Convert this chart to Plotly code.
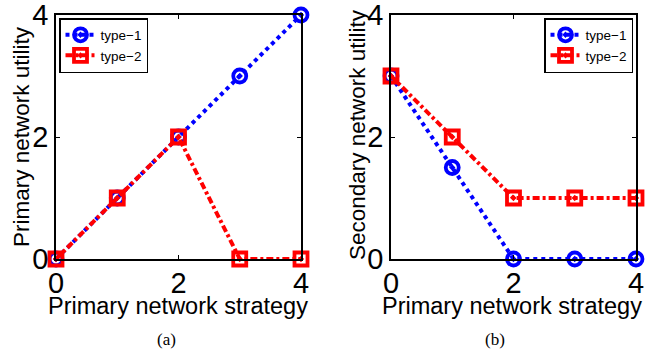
import plotly.graph_objects as go

x_strategy = [0, 1, 2, 3, 4]
a_type1 = [0, 1, 2, 3, 4]
a_type2 = [0, 1, 2, 0, 0]
b_type1 = [3, 1.5, 0, 0, 0]
b_type2 = [3, 2, 1, 1, 1]
ticks = [0, 2, 4]
x_title = "Primary network strategy"
y_title_a = "Primary network utility"
y_title_b = "Secondary network utility"

W, H = 647, 356
BLUE = "#0000ff"
RED = "#ff0000"

def px(x):
    return x / W

def py(y):
    return 1 - y / H

fig = go.Figure()

def add(x, y, name, color, symbol, dash, xa, ya, legend):
    fig.add_trace(go.Scatter(
        x=x, y=y, name=name, mode="lines+markers",
        line=dict(color=color, width=4, dash=dash),
        marker=dict(symbol=symbol, size=13, color=color,
                    line=dict(color=color, width=3.8)),
        xaxis=xa, yaxis=ya, legend=legend, showlegend=True, cliponaxis=False))

BLUE_DASH = "4px,4px"
RED_DASH = "7px,3px,3px,3px"
add(x_strategy, a_type1, "type\u22121", BLUE, "circle-open-dot", BLUE_DASH, "x", "y", "legend")
add(x_strategy, a_type2, "type\u22122", RED, "square-open-dot", RED_DASH, "x", "y", "legend")
add(x_strategy, b_type1, "type\u22121", BLUE, "circle-open-dot", BLUE_DASH, "x2", "y2", "legend2")
add(x_strategy, b_type2, "type\u22122", RED, "square-open-dot", RED_DASH, "x2", "y2", "legend2")

ydom = [py(259), py(15)]
axis_common = dict(range=[0, 4], tickvals=ticks, showline=True, mirror="ticks",
                   linecolor="black", linewidth=1.5, ticks="inside", ticklen=4,
                   tickcolor="black", showgrid=False, zeroline=False, automargin=False,
                   ticklabeloverflow="allow",
                   tickfont=dict(family="Liberation Sans, Arial", size=29, color="black"))
xaxis_extra = dict(ticklabelstandoff=-3)
xtitle_font = dict(family="Liberation Sans, Arial", size=23.5, color="black")
ytitle_font = dict(family="Liberation Sans, Arial", size=22.5, color="black")
cap_font = dict(family="Liberation Serif, Times New Roman", size=17, color="black")
leg_font = dict(family="Liberation Sans, Arial", size=13.5, color="black")

def ann(text, x, y, font, angle=0):
    return dict(text=text, x=px(x), y=py(y), xref="paper", yref="paper",
                xanchor="center", yanchor="middle", showarrow=False,
                font=font, textangle=angle)

fig.update_layout(
    width=W, height=H, margin=dict(l=0, r=0, t=0, b=0, autoexpand=False),
    paper_bgcolor="white", plot_bgcolor="white",
    xaxis=dict(domain=[px(56), px(301)], anchor="y", **axis_common, **xaxis_extra),
    yaxis=dict(domain=ydom, anchor="x", **axis_common),
    xaxis2=dict(domain=[px(391), px(636)], anchor="y2", **axis_common, **xaxis_extra),
    yaxis2=dict(domain=ydom, anchor="x2", **axis_common),
    legend=dict(x=px(59), y=py(18), xanchor="left", yanchor="top",
                bgcolor="white", bordercolor="black", borderwidth=1.5,
                font=leg_font, itemwidth=30, tracegroupgap=0),
    legend2=dict(x=px(633), y=py(18), xanchor="right", yanchor="top",
                 bgcolor="white", bordercolor="black", borderwidth=1.5,
                 font=leg_font, itemwidth=30, tracegroupgap=0),
    annotations=[
        ann(x_title, 178, 306, xtitle_font),
        ann(x_title, 512, 306, xtitle_font),
        ann(y_title_a, 21, 137, ytitle_font, -90),
        ann(y_title_b, 357, 135, ytitle_font, -90),
        ann("(a)", 166, 339, cap_font),
        ann("(b)", 495, 339, cap_font),
    ],
)

fig.write_html("out.html", config={"displayModeBar": False},
               post_script="document.body.style.margin='0px';document.body.style.overflow='hidden';")
